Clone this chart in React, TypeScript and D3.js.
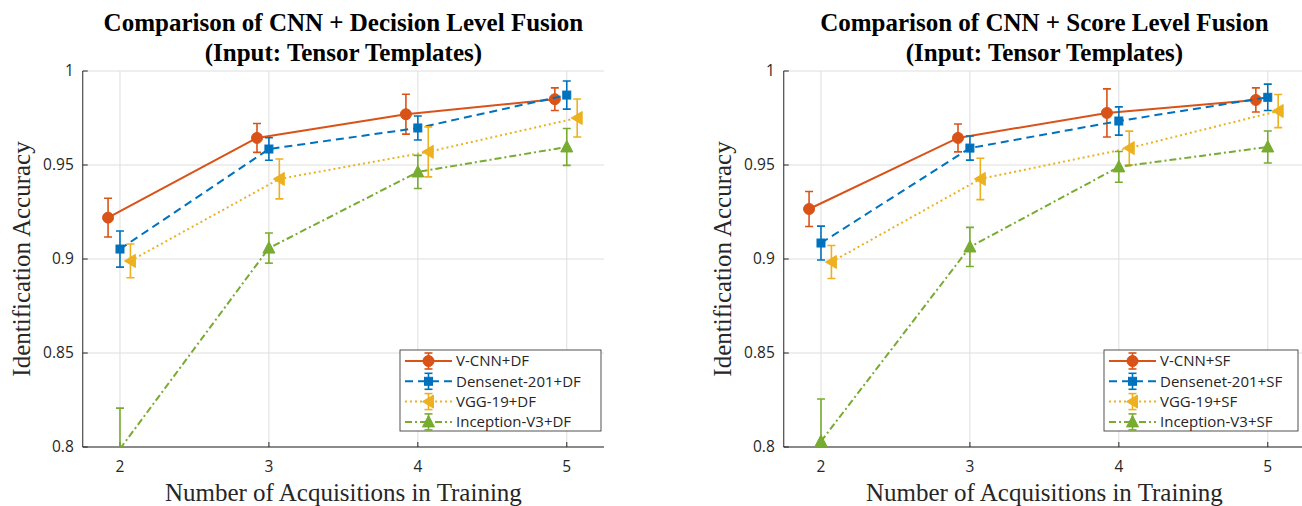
import React from 'react';
import * as d3 from 'd3';

// ---------- data ----------
const categories = [2, 3, 4, 5];
const xTickLabels = ['2', '3', '4', '5'];
const yTicks = [0.8, 0.85, 0.9, 0.95, 1];
const yTickLabels = ['0.8', '0.85', '0.9', '0.95', '1'];

const seriesNames = ['V-CNN', 'Densenet-201', 'VGG-19', 'Inception-V3'];

// Decision level fusion
const vcnnDF = [0.922, 0.9644, 0.977, 0.985];
const vcnnDFErr = [0.0103, 0.0077, 0.0106, 0.006];
const denseDF = [0.9053, 0.9585, 0.9697, 0.9872];
const denseDFErr = [0.0096, 0.006, 0.0064, 0.0075];
const vggDF = [0.899, 0.9426, 0.957, 0.975];
const vggDFErr = [0.009, 0.0106, 0.0133, 0.0101];
const incDF = [0.799, 0.9058, 0.9463, 0.9596];
const incDFErr = [0.0217, 0.008, 0.0088, 0.0098];

// Score level fusion
const vcnnSF = [0.9266, 0.9644, 0.9777, 0.9846];
const vcnnSFErr = [0.0093, 0.0074, 0.0128, 0.0064];
const denseSF = [0.9085, 0.959, 0.9734, 0.986];
const denseSFErr = [0.009, 0.0064, 0.0075, 0.007];
const vggSF = [0.8984, 0.9426, 0.959, 0.9787];
const vggSFErr = [0.0088, 0.011, 0.009, 0.0088];
const incSF = [0.803, 0.9064, 0.949, 0.9596];
const incSFErr = [0.0225, 0.0104, 0.0082, 0.0085];

// ---------- styles ----------
const COLORS = ['#D95319', '#0072BD', '#EDB120', '#77AC30'];
const DASHES = [undefined, '8,5', '2,3', '7,3,2,3'];
const XOFFSET = [-0.08, 0, 0.07, 0];
const MARKERS = ['circle', 'square', 'tri-left', 'tri-up'];

const AXIS_COLOR = '#262626';
const GRID_COLOR = '#dedede';
const SANS = '"Open Sans", "Noto Sans", sans-serif';
const SERIF = '"Liberation Serif", "Times New Roman", serif';

const Y_TOP = 71;
const Y_BOTTOM = 447;

function Marker({ kind, cx, cy, color }: { kind: string; cx: number; cy: number; color: string }) {
  if (kind === 'circle') return <circle cx={cx} cy={cy} r={5.5} fill={color} stroke={color} strokeWidth={1} />;
  if (kind === 'square') return <rect x={cx - 4} y={cy - 4} width={8} height={8} fill={color} stroke={color} strokeWidth={1} />;
  if (kind === 'tri-left')
    return <polygon points={`${cx - 6},${cy} ${cx + 5},${cy - 6.5} ${cx + 5},${cy + 6.5}`} fill={color} stroke={color} strokeWidth={1} />;
  return <polygon points={`${cx},${cy - 6.5} ${cx - 6},${cy + 5} ${cx + 6},${cy + 5}`} fill={color} stroke={color} strokeWidth={1} />;
}

type PanelProps = {
  id: string;
  x0: number;
  x1: number;
  title1: string;
  title2: string;
  values: number[][];
  errors: number[][];
  suffix: string;
  legendX: number;
  legendW: number;
};

function Panel({ id, x0, x1, title1, title2, values, errors, suffix, legendX, legendW }: PanelProps) {
  const x = d3.scaleLinear().domain([1.75, 5.25]).range([x0, x1]);
  const y = d3.scaleLinear().domain([0.8, 1]).range([Y_BOTTOM, Y_TOP]);
  const cx = (x0 + x1) / 2;

  const legendY = 350;
  const legendH = 81;
  const rowY = (i: number) => legendY + 11 + i * 20.3;

  return (
    <g>
      <defs>
        <clipPath id={id}>
          <rect x={x0} y={Y_TOP} width={x1 - x0} height={Y_BOTTOM - Y_TOP} />
        </clipPath>
      </defs>
      {/* grid */}
      {categories.map((c) => (
        <line key={'gx' + c} x1={x(c)} x2={x(c)} y1={Y_TOP} y2={Y_BOTTOM} stroke={GRID_COLOR} strokeWidth={1} />
      ))}
      {yTicks.map((t) => (
        <line key={'gy' + t} x1={x0} x2={x1} y1={y(t)} y2={y(t)} stroke={GRID_COLOR} strokeWidth={1} />
      ))}
      {/* axes */}
      <line x1={x0} x2={x0} y1={Y_TOP} y2={Y_BOTTOM} stroke={AXIS_COLOR} strokeWidth={1} />
      <line x1={x0} x2={x1} y1={Y_BOTTOM} y2={Y_BOTTOM} stroke={AXIS_COLOR} strokeWidth={1} />
      {yTicks.map((t, i) => (
        <g key={'yt' + t}>
          <line x1={x0} x2={x0 + 5} y1={y(t)} y2={y(t)} stroke={AXIS_COLOR} strokeWidth={1} />
          <text x={x0 - 9} y={y(t)} dy="0.35em" textAnchor="end" fontFamily={SANS} fontSize={15.5} fill={AXIS_COLOR}>
            {yTickLabels[i]}
          </text>
        </g>
      ))}
      {categories.map((c, i) => (
        <g key={'xt' + c}>
          <line x1={x(c)} x2={x(c)} y1={Y_BOTTOM} y2={Y_BOTTOM - 5} stroke={AXIS_COLOR} strokeWidth={1} />
          <text x={x(c)} y={467} dy="0.35em" textAnchor="middle" fontFamily={SANS} fontSize={15.5} fill={AXIS_COLOR}>
            {xTickLabels[i]}
          </text>
        </g>
      ))}
      {/* series */}
      {values.map((vals, s) => {
        const pts = vals.map((v, i) => [x(categories[i] + XOFFSET[s]), y(v)] as [number, number]);
        const path = d3.line()(pts) || '';
        return (
          <g key={'s' + s}>
            <g clipPath={`url(#${id})`}>
              <path d={path} fill="none" stroke={COLORS[s]} strokeWidth={2} strokeDasharray={DASHES[s]} />
              {vals.map((v, i) => {
                const px = x(categories[i] + XOFFSET[s]);
                const top = y(v + errors[s][i]);
                const bot = y(v - errors[s][i]);
                return (
                  <g key={'e' + i} stroke={COLORS[s]} strokeWidth={1.6}>
                    <line x1={px} x2={px} y1={top} y2={bot} />
                    <line x1={px - 4} x2={px + 4} y1={top} y2={top} />
                    <line x1={px - 4} x2={px + 4} y1={bot} y2={bot} />
                  </g>
                );
              })}
            </g>
            {vals.map((v, i) =>
              v >= 0.8 && v <= 1 ? (
                <Marker key={'m' + i} kind={MARKERS[s]} cx={x(categories[i] + XOFFSET[s])} cy={y(v)} color={COLORS[s]} />
              ) : null
            )}
          </g>
        );
      })}
      {/* legend */}
      <rect x={legendX} y={legendY} width={legendW} height={legendH} fill="#ffffff" stroke={AXIS_COLOR} strokeWidth={0.8} />
      {seriesNames.map((n, s) => {
        const ry = rowY(s);
        const lx0 = legendX + 5;
        const lx1 = legendX + 52;
        const mx = (lx0 + lx1) / 2;
        return (
          <g key={'l' + s}>
            <line x1={lx0} x2={lx1} y1={ry} y2={ry} stroke={COLORS[s]} strokeWidth={2} strokeDasharray={DASHES[s]} />
            <g stroke={COLORS[s]} strokeWidth={1.6}>
              <line x1={mx} x2={mx} y1={ry - 8} y2={ry + 8} />
              <line x1={mx - 4} x2={mx + 4} y1={ry - 8} y2={ry - 8} />
              <line x1={mx - 4} x2={mx + 4} y1={ry + 8} y2={ry + 8} />
            </g>
            <Marker kind={MARKERS[s]} cx={mx} cy={ry} color={COLORS[s]} />
            <text x={legendX + 56} y={ry} dy="0.36em" fontFamily={SANS} fontSize={15} fill={AXIS_COLOR}>
              {n + suffix}
            </text>
          </g>
        );
      })}
      {/* titles and labels */}
      <text x={cx} y={31} textAnchor="middle" fontFamily={SERIF} fontWeight="bold" fontSize={25} fill="#000">
        {title1}
      </text>
      <text x={cx} y={61} textAnchor="middle" fontFamily={SERIF} fontWeight="bold" fontSize={25} fill="#000">
        {title2}
      </text>
      <text x={cx} y={501} textAnchor="middle" fontFamily={SERIF} fontSize={25} fill={AXIS_COLOR}>
        Number of Acquisitions in Training
      </text>
      <text
        transform={`translate(${x0 - 53},${(Y_TOP + Y_BOTTOM) / 2}) rotate(-90)`}
        textAnchor="middle"
        fontFamily={SERIF}
        fontSize={25}
        fill={AXIS_COLOR}
      >
        Identification Accuracy
      </text>
    </g>
  );
}

export default function App() {
  return (
    <svg
      width={1302}
      height={506}
      viewBox="0 0 1302 506"
      style={{ position: 'absolute', left: 0, top: 0, background: '#ffffff' }}
    >
      <rect x={0} y={0} width={1302} height={506} fill="#ffffff" />
      <Panel
        id="clipDF"
        x0={82.75}
        x1={604}
        title1="Comparison of CNN + Decision Level Fusion"
        title2="(Input: Tensor Templates)"
        values={[vcnnDF, denseDF, vggDF, incDF]}
        errors={[vcnnDFErr, denseDFErr, vggDFErr, incDFErr]}
        suffix="+DF"
        legendX={400}
        legendW={201}
      />
      <Panel
        id="clipSF"
        x0={783.75}
        x1={1305}
        title1="Comparison of CNN + Score Level Fusion"
        title2="(Input: Tensor Templates)"
        values={[vcnnSF, denseSF, vggSF, incSF]}
        errors={[vcnnSFErr, denseSFErr, vggSFErr, incSFErr]}
        suffix="+SF"
        legendX={1104}
        legendW={194}
      />
    </svg>
  );
}
